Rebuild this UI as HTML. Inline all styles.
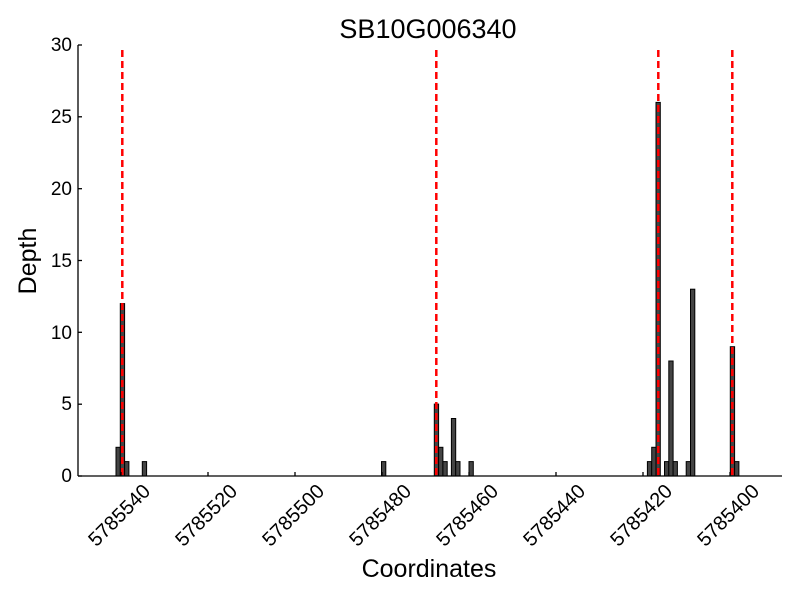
<!DOCTYPE html>
<html><head><style>body{margin:0;background:#fff}svg{display:block}</style></head><body>
<svg width="800" height="600" xmlns="http://www.w3.org/2000/svg" font-family="Liberation Sans, DejaVu Sans, sans-serif">
<rect width="800" height="600" fill="#fff"/>
<text x="428" y="38" font-size="27" text-anchor="middle">SB10G006340</text>
<g fill="#444" stroke="#000" stroke-width="1">
<rect x="116" y="447.3" width="4.3" height="28.7"/>
<rect x="120.3" y="303.6" width="4.3" height="172.4"/>
<rect x="124.6" y="461.6" width="4.3" height="14.4"/>
<rect x="142.3" y="461.6" width="4.3" height="14.4"/>
<rect x="381.5" y="461.6" width="4.3" height="14.4"/>
<rect x="434.3" y="404.1" width="4.3" height="71.9"/>
<rect x="438.6" y="447.3" width="4.3" height="28.7"/>
<rect x="442.9" y="461.6" width="4.3" height="14.4"/>
<rect x="451.4" y="418.5" width="4.3" height="57.5"/>
<rect x="455.7" y="461.6" width="4.3" height="14.4"/>
<rect x="469" y="461.6" width="4.3" height="14.4"/>
<rect x="647.4" y="461.6" width="4.3" height="14.4"/>
<rect x="651.7" y="447.3" width="4.3" height="28.7"/>
<rect x="656" y="102.4" width="4.3" height="373.6"/>
<rect x="664.5" y="461.6" width="4.3" height="14.4"/>
<rect x="668.8" y="361" width="4.3" height="115"/>
<rect x="673.1" y="461.6" width="4.3" height="14.4"/>
<rect x="686.2" y="461.6" width="4.3" height="14.4"/>
<rect x="690.5" y="289.2" width="4.3" height="186.8"/>
<rect x="730.3" y="346.7" width="4.3" height="129.3"/>
<rect x="734.6" y="461.6" width="4.3" height="14.4"/>
</g>
<g stroke="#f00" stroke-width="2.5" stroke-dasharray="7,4">
<line x1="122.3" y1="50" x2="122.3" y2="476"/>
<line x1="436.3" y1="50" x2="436.3" y2="476"/>
<line x1="658.3" y1="50" x2="658.3" y2="476"/>
<line x1="732.3" y1="50" x2="732.3" y2="476"/>
</g>
<g stroke="#000" stroke-width="1.3" fill="none">
<line x1="78" y1="45" x2="78" y2="476"/>
<line x1="78" y1="476" x2="782" y2="476"/>
<line x1="78" y1="476" x2="82" y2="476"/><line x1="78" y1="404.2" x2="82" y2="404.2"/><line x1="78" y1="332.3" x2="82" y2="332.3"/><line x1="78" y1="260.5" x2="82" y2="260.5"/><line x1="78" y1="188.7" x2="82" y2="188.7"/><line x1="78" y1="116.8" x2="82" y2="116.8"/><line x1="78" y1="45" x2="82" y2="45"/>
<line x1="121" y1="476" x2="121" y2="472"/><line x1="208" y1="476" x2="208" y2="472"/><line x1="295" y1="476" x2="295" y2="472"/><line x1="382" y1="476" x2="382" y2="472"/><line x1="469" y1="476" x2="469" y2="472"/><line x1="556" y1="476" x2="556" y2="472"/><line x1="643" y1="476" x2="643" y2="472"/><line x1="730" y1="476" x2="730" y2="472"/>
</g>
<g font-size="19" text-anchor="end">
<text x="72" y="482">0</text><text x="72" y="410">5</text><text x="72" y="339">10</text><text x="72" y="267">15</text><text x="72" y="195">20</text><text x="72" y="123">25</text><text x="72" y="51">30</text>
</g>
<g font-size="20" text-anchor="middle">
<text transform="translate(119,515) rotate(-45)" dy="0.35em">5785540</text>
<text transform="translate(206,515) rotate(-45)" dy="0.35em">5785520</text>
<text transform="translate(293,515) rotate(-45)" dy="0.35em">5785500</text>
<text transform="translate(380,515) rotate(-45)" dy="0.35em">5785480</text>
<text transform="translate(467,515) rotate(-45)" dy="0.35em">5785460</text>
<text transform="translate(554,515) rotate(-45)" dy="0.35em">5785440</text>
<text transform="translate(641,515) rotate(-45)" dy="0.35em">5785420</text>
<text transform="translate(728,515) rotate(-45)" dy="0.35em">5785400</text>
</g>
<text x="429" y="577" font-size="25" text-anchor="middle">Coordinates</text>
<text transform="translate(36,261) rotate(-90)" font-size="25" text-anchor="middle">Depth</text>
</svg>
</body></html>
